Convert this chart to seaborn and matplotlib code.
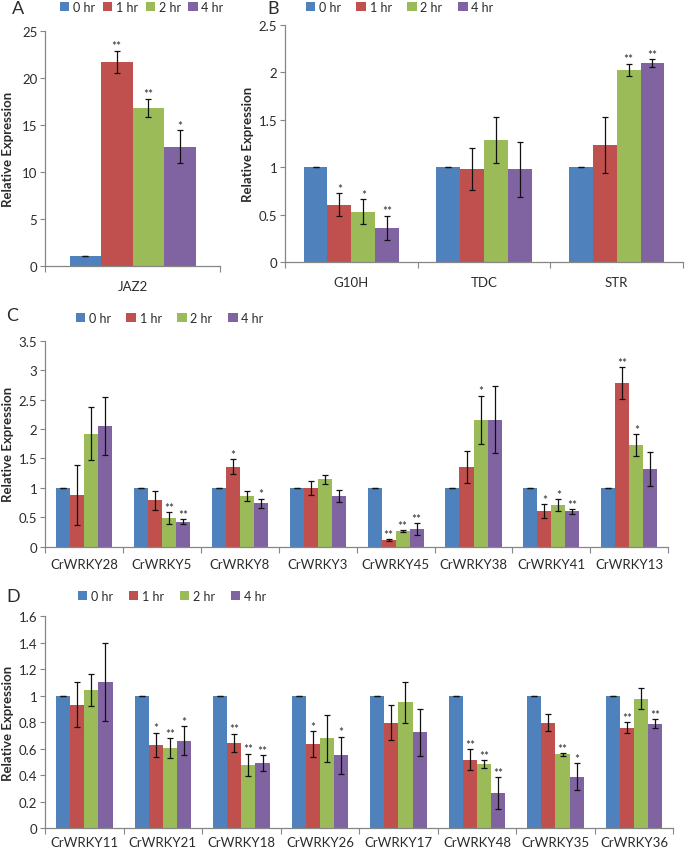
import numpy as np
import pandas as pd
import matplotlib
matplotlib.use("Agg")
import matplotlib.pyplot as plt
from matplotlib.ticker import FuncFormatter, FixedLocator
from matplotlib.container import BarContainer
import seaborn as sns

plt.rcParams['font.family'] = ['Lato', 'DejaVu Sans']

hours = ['0 hr', '1 hr', '2 hr', '4 hr']
colors = ['#4F81BD', '#C0504D', '#9BBB59', '#8064A2']

# Panel A
a_genes = ['JAZ2']
a_means = [[1.0, 21.75, 16.85, 12.7]]
a_errs = [[0.0, 1.19, 0.98, 1.78]]
a_stars = [['', '**', '**', '*']]

# Panel B
b_genes = ['G10H', 'TDC', 'STR']
b_means = [[1.0, 0.607, 0.533, 0.361],
           [1.0, 0.985, 1.29, 0.978],
           [1.0, 1.234, 2.027, 2.093]]
b_errs = [[0.0, 0.117, 0.128, 0.128],
          [0.0, 0.22, 0.242, 0.288],
          [0.0, 0.298, 0.062, 0.042]]
b_stars = [['', '*', '*', '**'],
           ['', '', '', ''],
           ['', '', '**', '**']]

# Panel C
c_genes = ['CrWRKY28', 'CrWRKY5', 'CrWRKY8', 'CrWRKY3',
           'CrWRKY45', 'CrWRKY38', 'CrWRKY41', 'CrWRKY13']
c_means = [[1.0, 0.883, 1.92, 2.05],
           [1.0, 0.787, 0.487, 0.425],
           [1.0, 1.359, 0.866, 0.736],
           [1.0, 0.997, 1.144, 0.866],
           [1.0, 0.113, 0.266, 0.30],
           [1.0, 1.348, 2.157, 2.157],
           [1.0, 0.60, 0.702, 0.60],
           [1.0, 2.78, 1.727, 1.32]]
c_errs = [[0.0, 0.51, 0.447, 0.50],
          [0.0, 0.155, 0.10, 0.045],
          [0.0, 0.125, 0.088, 0.082],
          [0.0, 0.113, 0.076, 0.10],
          [0.0, 0.01, 0.01, 0.096],
          [0.0, 0.27, 0.41, 0.57],
          [0.0, 0.12, 0.10, 0.04],
          [0.0, 0.265, 0.184, 0.283]]
c_stars = [['', '', '', ''],
           ['', '', '**', '**'],
           ['', '*', '', '*'],
           ['', '', '', ''],
           ['', '**', '**', '**'],
           ['', '', '*', ''],
           ['', '*', '*', '**'],
           ['', '**', '*', '']]

# Panel D
d_genes = ['CrWRKY11', 'CrWRKY21', 'CrWRKY18', 'CrWRKY26',
           'CrWRKY17', 'CrWRKY48', 'CrWRKY35', 'CrWRKY36']
d_means = [[1.0, 0.931, 1.044, 1.102],
           [1.0, 0.631, 0.604, 0.662],
           [1.0, 0.644, 0.478, 0.493],
           [1.0, 0.636, 0.679, 0.551],
           [1.0, 0.795, 0.951, 0.725],
           [1.0, 0.516, 0.483, 0.267],
           [1.0, 0.795, 0.558, 0.39],
           [1.0, 0.76, 0.979, 0.79]]
d_errs = [[0.0, 0.17, 0.12, 0.295],
          [0.0, 0.09, 0.074, 0.11],
          [0.0, 0.069, 0.085, 0.058],
          [0.0, 0.096, 0.175, 0.14],
          [0.0, 0.132, 0.156, 0.178],
          [0.0, 0.079, 0.031, 0.118],
          [0.0, 0.064, 0.01, 0.102],
          [0.0, 0.042, 0.082, 0.032]]
d_stars = [['', '', '', ''],
           ['', '*', '**', '*'],
           ['', '**', '**', '**'],
           ['', '*', '', '*'],
           ['', '', '', ''],
           ['', '**', '**', '**'],
           ['', '', '**', '*'],
           ['', '**', '', '**']]

W, H = 685, 853
fig = plt.figure(figsize=(W / 100, H / 100), dpi=100)

AX_COL = '#868686'
TXT_COL = '#2b2b2b'


def px_axes(left, right, bottom, top):
    return fig.add_axes([left / W, 1 - bottom / H, (right - left) / W, (bottom - top) / H])


def draw_panel(ax, genes, means, errs, stars, ymax, ystep, letter, letter_xy,
               legend_xy, colspacing, ylabel_right_px, left_px, width_px, xpad):
    rows = []
    for g, m in zip(genes, means):
        for h, v in zip(hours, m):
            rows.append({'gene': g, 'hour': h, 'value': v})
    df = pd.DataFrame(rows)
    sns.barplot(data=df, x='gene', y='value', hue='hour', order=genes,
                hue_order=hours, palette=colors, saturation=1, width=0.72,
                errorbar=None, linewidth=0, ax=ax)
    handles, labels = ax.get_legend_handles_labels()
    if ax.get_legend() is not None:
        ax.get_legend().remove()
    bar_conts = [c for c in ax.containers if isinstance(c, BarContainer)]
    for hi, cont in enumerate(bar_conts):
        for gi, bar in enumerate(cont.patches):
            x = bar.get_x() + bar.get_width() / 2
            y = bar.get_height()
            e = errs[gi][hi]
            ax.errorbar(x, y, yerr=e, fmt='none', ecolor='#111111',
                        elinewidth=0.9, capsize=2.3, capthick=0.9, zorder=3)
            s = stars[gi][hi]
            if s:
                ax.annotate(s, (x, y + e), xytext=(0, 1.0),
                            textcoords='offset points', ha='center',
                            va='baseline', fontsize=8.5, color=TXT_COL)
    n = len(genes)
    ax.set_xlim(-0.5, n - 0.5)
    ax.set_ylim(0, ymax)
    ax.yaxis.set_major_locator(FixedLocator(np.arange(0, ymax + ystep / 2, ystep)))
    ax.yaxis.set_major_formatter(FuncFormatter(lambda v, p: '{:g}'.format(round(v, 3))))
    ax.set_xticks(np.arange(n))
    ax.set_xticklabels(genes)
    ax.set_xticks(np.arange(n + 1) - 0.5, minor=True)
    ax.tick_params(axis='x', which='major', length=0, pad=xpad, labelsize=9.5,
                   labelcolor=TXT_COL)
    ax.tick_params(axis='x', which='minor', length=4, width=0.8, color=AX_COL,
                   direction='out')
    ax.tick_params(axis='y', which='major', length=3.5, width=0.8, color=AX_COL,
                   labelsize=9.5, labelcolor=TXT_COL, pad=2)
    for sp in ['top', 'right']:
        ax.spines[sp].set_visible(False)
    for sp in ['left', 'bottom']:
        ax.spines[sp].set_color(AX_COL)
        ax.spines[sp].set_linewidth(0.9)
    ax.set_xlabel('')
    ax.set_ylabel('Relative Expression', fontsize=9.5, fontweight='bold',
                  color=TXT_COL)
    ax.yaxis.set_label_coords((ylabel_right_px - left_px) / width_px, 0.5)
    fig.text(letter_xy[0] / W, 1 - letter_xy[1] / H, letter, fontsize=13,
             ha='center', va='center', color=TXT_COL)
    fig.legend(handles, labels, loc='center left',
               bbox_to_anchor=(legend_xy[0] / W, 1 - legend_xy[1] / H),
               bbox_transform=fig.transFigure, ncol=4, frameon=False,
               handlelength=0.75, handleheight=0.75, handletextpad=0.3,
               columnspacing=colspacing, borderpad=0, borderaxespad=0,
               fontsize=9, labelcolor=TXT_COL)


axA = px_axes(45, 220, 266.7, 32.3)
draw_panel(axA, a_genes, a_means, a_errs, a_stars, 25, 5, 'A', (18.5, 8.5),
           (60, 7.5), 0.6, 14, 45, 175, 10)

axB = px_axes(285, 683, 263.3, 25.7)
draw_panel(axB, b_genes, b_means, b_errs, b_stars, 2.5, 0.5, 'B', (273.5, 8.5),
           (305.5, 7.5), 1.25, 254, 285, 398, 10)

axC = px_axes(45, 668.3, 547.7, 341.7)
draw_panel(axC, c_genes, c_means, c_errs, c_stars, 3.5, 0.5, 'C', (12.5, 316.5),
           (75.5, 319), 1.25, 14, 45, 623.3, 8)

axD = px_axes(45, 673.3, 829.3, 617.3)
draw_panel(axD, d_genes, d_means, d_errs, d_stars, 1.6, 0.2, 'D', (13, 597.5),
           (78, 597), 1.25, 14, 45, 628.3, 5.5)

fig.savefig('out.png', dpi=100)
